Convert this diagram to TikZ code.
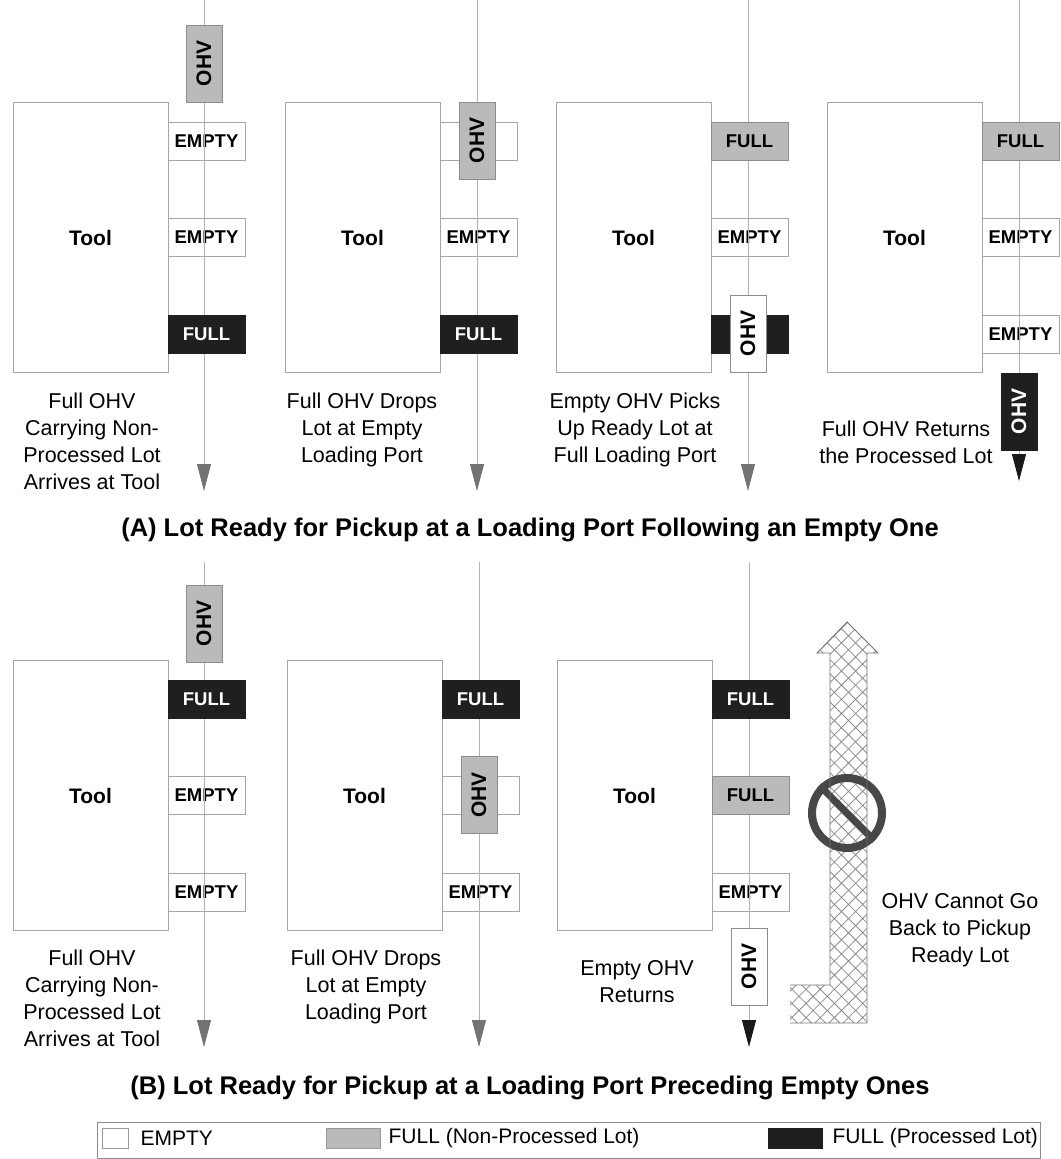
\documentclass[tikz,border=0pt]{standalone}
\usepackage{fontspec}
\setmainfont{Liberation Sans}
\usetikzlibrary{positioning,arrows.meta,patterns.meta}

\begin{document}
\begin{tikzpicture}[
    x=1pt, y=-1pt,
    font=\fontsize{21}{27}\selectfont,
    tool/.style={draw=black!35, line width=0.8pt, minimum width=155pt, minimum height=270pt, inner sep=0pt, font=\fontsize{21}{24}\selectfont\bfseries},
    port/.style={draw=black!35, line width=0.8pt, minimum width=77pt, minimum height=38pt, inner sep=0pt, font=\fontsize{18.5}{20}\selectfont\bfseries},
    emptyport/.style={port},
    rawport/.style={port, fill=black!27, draw=black!45},
    doneport/.style={port, fill=black!88, draw=black!88, text=white},
    ohv/.style={rotate=90, minimum width=77pt, minimum height=36pt, inner sep=0pt, line width=0.8pt, font=\fontsize{21}{22}\selectfont\bfseries},
    ohvraw/.style={ohv, fill=black!27, draw=black!45},
    ohvdone/.style={ohv, fill=black!88, draw=black!88, text=white},
    ohvempty/.style={ohv, fill=white, draw=black!45},
    track/.style={black!30, line width=0.9pt, -{Triangle[width=14pt,length=27pt,color=black!55]}},
    trackdone/.style={track, -{Triangle[width=14pt,length=27pt,color=black!90]}},
    caption/.style={align=center, anchor=north, inner sep=0pt, font=\fontsize{21.5}{27}\selectfont},
    title/.style={font=\fontsize{25.5}{28}\selectfont\bfseries},
    swatch/.style={draw=black!40, line width=0.8pt, minimum width=54pt, minimum height=20pt, inner sep=0pt},
    legtext/.style={anchor=west, inner sep=0pt, font=\fontsize{21}{24}\selectfont},
]
    \useasboundingbox (0,0) rectangle (1060,1159);

    % ============= Panel A: following an empty port =============
    % step 1: full OHV arrives
    \node[tool] (toolA1) at (90.5,237.5) {Tool};
    \node[emptyport] (pA1a) at (206.5,141) {EMPTY};
    \node[emptyport] (pA1b) at (206.5,237.5) {EMPTY};
    \coordinate (tA1s) at (204,0);
    \coordinate (tA1e) at (204,491);
    \draw[track] (tA1s) -- (tA1e);
    \node[doneport] (pA1c) at (206.5,334) {FULL};
    \node[ohvraw] (ohvA1) at (204,63.5) {OHV};
    \node[caption] (capA1) at (92,393) {Full OHV\\Carrying Non-\\Processed Lot\\Arrives at Tool};

    % step 2: lot dropped at empty port
    \node[tool] (toolA2) at (362.5,237.5) {Tool};
    \node[emptyport] (pA2a) at (478.5,141) {};
    \node[emptyport] (pA2b) at (478.5,237.5) {EMPTY};
    \coordinate (tA2s) at (477,0);
    \coordinate (tA2e) at (477,491);
    \draw[track] (tA2s) -- (tA2e);
    \node[doneport] (pA2c) at (478.5,334) {FULL};
    \node[ohvraw] (ohvA2) at (477,140.5) {OHV};
    \node[caption] (capA2) at (362,393) {Full OHV Drops\\Lot at Empty\\Loading Port};

    % step 3: empty OHV picks up
    \node[tool] (toolA3) at (633.5,237.5) {Tool};
    \node[emptyport] (pA3b) at (749.5,237.5) {EMPTY};
    \coordinate (tA3s) at (748,0);
    \coordinate (tA3e) at (748,491);
    \draw[track] (tA3s) -- (tA3e);
    \node[rawport] (pA3a) at (749.5,141) {FULL};
    \node[doneport] (pA3c) at (749.5,334) {};
    \node[ohvempty] (ohvA3) at (748,333.5) {OHV};
    \node[caption] (capA3) at (635,393) {Empty OHV Picks\\Up Ready Lot at\\Full Loading Port};

    % step 4: processed lot leaves
    \node[tool] (toolA4) at (904.5,237.5) {Tool};
    \node[emptyport] (pA4b) at (1020.5,237.5) {EMPTY};
    \node[emptyport] (pA4c) at (1020.5,334) {EMPTY};
    \coordinate (tA4s) at (1019,0);
    \coordinate (tA4e) at (1019,481);
    \draw[trackdone] (tA4s) -- (tA4e);
    \node[rawport] (pA4a) at (1020.5,141) {FULL};
    \node[ohvdone] (ohvA4) at (1019,411.5) {OHV};
    \node[caption] (capA4) at (906,421) {Full OHV Returns\\the Processed Lot};

    \node[title] (titleA) at (530,530) {(A) Lot Ready for Pickup at a Loading Port Following an Empty One};

    % ============= Panel B: preceding empty ports =============
    % step 1: full OHV arrives
    \node[tool] (toolB1) at (90.5,795.5) {Tool};
    \node[emptyport] (pB1b) at (206.5,795.5) {EMPTY};
    \node[emptyport] (pB1c) at (206.5,892) {EMPTY};
    \coordinate (tB1s) at (204,562);
    \coordinate (tB1e) at (204,1047);
    \draw[track] (tB1s) -- (tB1e);
    \node[doneport] (pB1a) at (206.5,699) {FULL};
    \node[ohvraw] (ohvB1) at (204,623.5) {OHV};
    \node[caption] (capB1) at (92,950) {Full OHV\\Carrying Non-\\Processed Lot\\Arrives at Tool};

    % step 2: lot dropped at empty port
    \node[tool] (toolB2) at (364.5,795.5) {Tool};
    \node[emptyport] (pB2b) at (480.5,795.5) {};
    \node[emptyport] (pB2c) at (480.5,892) {EMPTY};
    \coordinate (tB2s) at (479,562);
    \coordinate (tB2e) at (479,1047);
    \draw[track] (tB2s) -- (tB2e);
    \node[doneport] (pB2a) at (480.5,699) {FULL};
    \node[ohvraw] (ohvB2) at (479,795) {OHV};
    \node[caption] (capB2) at (366,950) {Full OHV Drops\\Lot at Empty\\Loading Port};

    % step 3: empty OHV returns
    \node[tool] (toolB3) at (634.5,795.5) {Tool};
    \node[emptyport] (pB3c) at (750.5,892) {EMPTY};
    \coordinate (tB3s) at (749,562);
    \coordinate (tB3e) at (749,1047);
    \draw[trackdone] (tB3s) -- (tB3e);
    \node[doneport] (pB3a) at (750.5,699) {FULL};
    \node[rawport] (pB3b) at (750.5,795.5) {FULL};
    \node[ohvempty] (ohvB3) at (749,966.5) {OHV};
    \node[caption] (capB3) at (637,960) {Empty OHV\\Returns};

    % no way back
    \fill[pattern={Hatch[angle=45,distance=10pt,line width=0.8pt]}, pattern color=black!45]
        (790,985) -- (830,985) -- (830,653) -- (817,653) -- (847,622) -- (878,653)
        -- (867,653) -- (867,1023) -- (790,1023) -- cycle;
    \node[circle, draw=black!72, line width=8pt, minimum size=70pt, inner sep=0pt] (nogo) at (847,813) {};
    \draw[black!72, line width=7pt] (nogo.135) -- (nogo.-45);
    \draw[black!55, line width=0.8pt]
        (790,985) -- (830,985) -- (830,653) -- (817,653) -- (847,622) -- (878,653)
        -- (867,653) -- (867,1023) -- (790,1023);
    \node[caption] (capB4) at (960,893) {OHV Cannot Go\\Back to Pickup\\Ready Lot};

    \node[title] (titleB) at (530,1088) {(B) Lot Ready for Pickup at a Loading Port Preceding Empty Ones};

    % ============= Legend =============
    \node[draw=black!45, line width=0.8pt, minimum width=943pt, minimum height=36pt, inner sep=0pt] (legend) at (568.5,1140) {};
    \node[swatch, minimum width=26pt] (lgE) at (115,1138) {};
    \node[legtext, right=12pt of lgE] (lgEt) {EMPTY};
    \node[swatch, fill=black!27] (lgR) at (353,1138) {};
    \node[legtext, right=8pt of lgR] (lgRt) {FULL (Non-Processed Lot)};
    \node[swatch, fill=black!88, draw=black!88] (lgD) at (795,1138) {};
    \node[legtext, right=10pt of lgD] (lgDt) {FULL (Processed Lot)};
\end{tikzpicture}
\end{document}
